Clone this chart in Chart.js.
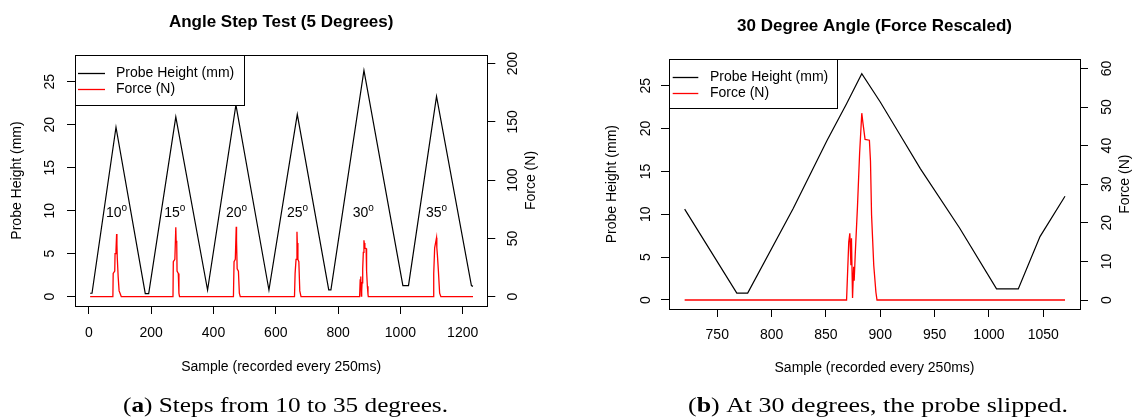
<!DOCTYPE html>
<html>
<head>
<meta charset="utf-8">
<script src="https://cdn.jsdelivr.net/npm/chart.js@4.4.0/dist/chart.umd.min.js"></script>
<style>
  html, body { margin: 0; padding: 0; background: #fff; }
  #wrap { position: relative; width: 1133px; height: 420px; overflow: hidden; }
  canvas { position: absolute; top: 0; }
  #chartA { left: 0; }
  #chartB { left: 560px; }
</style>
</head>
<body>
<div id="wrap">
  <canvas id="chartA" width="560" height="420" style="width:560px;height:420px"></canvas>
  <canvas id="chartB" width="573" height="420" style="width:573px;height:420px"></canvas>
</div>
<script>
// Panel (a): angle step test, samples every 250ms
const heightSampleA = [4, 10, 87, 181, 192, 279, 381, 472, 578, 669, 770, 777, 883, 1008, 1026, 1116, 1228, 1233];
const heightA = [0.4, 0.4, 19.7, 0.35, 0.35, 20.9, 0.78, 22.3, 0.78, 21.2, 0.8, 0.8, 26.3, 1.3, 1.3, 23.3, 1.3, 1.2];

const forceSampleA = [
  4, 77, 78, 83, 84, 87, 89, 90, 91, 94, 97, 100, 104,
  270, 271, 276, 279, 280, 282, 283, 287, 289, 291,
  464, 466, 470, 473, 474, 476, 480, 483, 486,
  660, 662, 665, 668, 669, 671, 674, 677, 681,
  869, 871, 872, 873, 873.5, 874.5, 875.5, 876, 877, 879, 881, 883, 884, 886, 890, 891, 892, 894, 896, 897,
  1105, 1107, 1110, 1116, 1117, 1119, 1122, 1126, 1130,
  1233
];
const forceA = [
  0, 0, 20, 22, 37, 40, 53.8, 45, 34, 17, 5, 3, 0,
  0, 30, 32, 59.5, 48, 46, 22, 20, 3, 0,
  0, 30, 32, 60, 48, 24, 22, 3, 0,
  0, 20, 32, 55.8, 46, 32, 30, 5, 0,
  0, 15, 17.3, 9, 16, 0.5, 8.6, 5, 12, 24, 38, 48.4, 46, 41.6, 41.4, 36, 22, 9, 2, 0,
  0, 20, 42, 50.6, 42, 35, 22, 3, 0,
  0
];

const angleNames = ['10', '15', '20', '25', '30', '35'];
const angleSample = [89, 276, 474, 670, 881, 1116];
const angleLabelHeight = 9.7;

// Panel (b): the 30 degree step, force on its own scale
const heightSampleB = [720, 768, 778, 820, 851, 869, 883, 900, 918, 937, 973, 1007, 1027, 1047, 1070];
const heightB = [10.6, 0.8, 0.8, 10.7, 18.6, 22.9, 26.4, 23.1, 19.3, 15.3, 8.4, 1.3, 1.3, 7.4, 12.1];

const forceSampleB = [720, 869, 871, 872, 873, 873.5, 874.5, 875.5, 876, 877, 879, 881, 883, 884, 886, 890, 891, 892, 894, 896, 897, 1070];
const forceB = [0, 0, 15, 17.3, 9, 16, 0.5, 8.6, 5, 12, 24, 38, 48.4, 46, 41.6, 41.4, 36, 22, 9, 2, 0, 0];

const seriesNames = ['Probe Height (mm)', 'Force (N)'];
const seriesColors = ['#000000', '#ff0000'];

const SANS = '"Liberation Sans", Arial, sans-serif';
const SERIF = '"Liberation Serif", "Times New Roman", serif';

function toPoints(xs, ys) {
  return xs.map((x, i) => ({ x: x, y: ys[i] }));
}

function drawRotated(ctx, text, x, y) {
  ctx.save();
  ctx.translate(x, y);
  ctx.rotate(-Math.PI / 2);
  ctx.fillText(text, 0, 0);
  ctx.restore();
}

// draws the R-style box, labels, legend and caption on top of the chart
const rDecor = {
  id: 'rDecor',
  afterDraw(chart) {
    const p = chart.options.plugins.rDecor;
    const ctx = chart.ctx;
    const a = chart.chartArea;
    ctx.save();
    ctx.fillStyle = '#000';
    ctx.strokeStyle = '#000';
    ctx.lineWidth = 1;

    // box
    ctx.strokeRect(Math.round(a.left) + 0.5, Math.round(a.top) + 0.5,
      Math.round(a.right - a.left), Math.round(a.bottom - a.top));

    // tick labels
    ctx.font = '14px ' + SANS;
    ctx.textAlign = 'center';
    ctx.textBaseline = 'middle';
    const sx = chart.scales.x, sy = chart.scales.y, sy2 = chart.scales.y2;
    sx.ticks.forEach(t => ctx.fillText(String(t.value), sx.getPixelForValue(t.value), p.xTickY));
    sy.ticks.forEach(t => drawRotated(ctx, String(t.value), p.yTickX, sy.getPixelForValue(t.value)));
    sy2.ticks.forEach(t => drawRotated(ctx, String(t.value), p.y2TickX, sy2.getPixelForValue(t.value)));

    // axis titles
    const midX = (a.left + a.right) / 2, midY = (a.top + a.bottom) / 2;
    ctx.fillText('Sample (recorded every 250ms)', midX, p.xTitleY);
    drawRotated(ctx, seriesNames[0], p.yTitleX, midY);
    drawRotated(ctx, seriesNames[1], p.y2TitleX, midY);

    // main title
    ctx.font = 'bold 17px ' + SANS;
    ctx.fillText(p.title, midX, p.titleY);

    // angle labels (panel a)
    if (p.angles) {
      const y = sy.getPixelForValue(angleLabelHeight);
      angleNames.forEach((name, i) => {
        ctx.font = '14px ' + SANS;
        const wBase = ctx.measureText(name).width;
        ctx.font = '10px ' + SANS;
        const wSup = ctx.measureText('o').width;
        const x0 = sx.getPixelForValue(angleSample[i]) - (wBase + wSup) / 2;
        ctx.textAlign = 'left';
        ctx.font = '14px ' + SANS;
        ctx.fillText(name, x0, y);
        ctx.font = '10px ' + SANS;
        ctx.fillText('o', x0 + wBase, y - 5);
      });
      ctx.textAlign = 'center';
    }

    // legend
    const L = p.legend;
    ctx.fillStyle = '#fff';
    ctx.fillRect(L.left, L.top, L.right - L.left, L.bottom - L.top);
    ctx.strokeStyle = '#000';
    ctx.strokeRect(Math.round(L.left) + 0.5, Math.round(L.top) + 0.5,
      Math.round(L.right - L.left), Math.round(L.bottom - L.top));
    ctx.font = '14px ' + SANS;
    ctx.textAlign = 'left';
    seriesNames.forEach((name, i) => {
      const y = L.rows[i];
      ctx.strokeStyle = seriesColors[i];
      ctx.lineWidth = 1.3;
      ctx.beginPath();
      ctx.moveTo(L.lineX0, Math.round(y) + 0.5);
      ctx.lineTo(L.lineX1, Math.round(y) + 0.5);
      ctx.stroke();
      ctx.fillStyle = '#000';
      ctx.fillText(name, L.textX, y);
    });

    // caption under the panel
    const cap = p.caption;
    const size = 22;
    const parts = [['(', false], [cap.letter, true], [') ' + cap.text, false]];
    let w = 0;
    parts.forEach(([t, b]) => {
      ctx.font = (b ? 'bold ' : '') + size + 'px ' + SERIF;
      w += ctx.measureText(t).width;
    });
    ctx.save();
    ctx.translate(cap.x - cap.width / 2, cap.y);
    ctx.scale(cap.width / w, 1);
    ctx.textBaseline = 'alphabetic';
    let cx = 0;
    parts.forEach(([t, b]) => {
      ctx.font = (b ? 'bold ' : '') + size + 'px ' + SERIF;
      ctx.fillText(t, cx, 0);
      cx += ctx.measureText(t).width;
    });
    ctx.restore();

    ctx.restore();
  }
};

function axis(position, min, max, step, size) {
  return {
    type: 'linear',
    position: position,
    min: min,
    max: max,
    ticks: { display: false, stepSize: step, includeBounds: false },
    grid: { drawOnChartArea: false, drawTicks: true, tickLength: 8, tickColor: '#000', tickWidth: 1 },
    border: { display: false },
    afterFit: scale => {
      if (position === 'bottom') scale.height = size;
      else scale.width = size;
    }
  };
}

function makeChart(id, cfg) {
  return new Chart(document.getElementById(id), {
    type: 'line',
    data: {
      datasets: [
        {
          label: seriesNames[1], data: toPoints(cfg.forceX, cfg.force), yAxisID: 'y2',
          borderColor: seriesColors[1], borderWidth: 1.3, pointRadius: 0, tension: 0, fill: false
        },
        {
          label: seriesNames[0], data: toPoints(cfg.heightX, cfg.height), yAxisID: 'y',
          borderColor: seriesColors[0], borderWidth: 1.2, pointRadius: 0, tension: 0, fill: false
        }
      ]
    },
    options: {
      responsive: false,
      animation: false,
      devicePixelRatio: 1,
      events: [],
      layout: { padding: { top: cfg.area.top, left: 0, right: 0, bottom: 0 } },
      scales: {
        x: axis('bottom', cfg.xMin, cfg.xMax, cfg.xStep, 420 - cfg.area.bottom),
        y: axis('left', cfg.yMin, cfg.yMax, 5, cfg.area.left),
        y2: axis('right', cfg.y2Min, cfg.y2Max, cfg.y2Step, cfg.width - cfg.area.right)
      },
      plugins: {
        legend: { display: false },
        tooltip: { enabled: false },
        rDecor: cfg.decor
      }
    },
    plugins: [rDecor]
  });
}

makeChart('chartA', {
  forceX: forceSampleA, force: forceA, heightX: heightSampleA, height: heightA,
  width: 560,
  area: { left: 75, top: 55, right: 487.3, bottom: 306 },
  xMin: -44.6, xMax: 1279, xStep: 200,
  yMin: -1.08, yMax: 28.1,
  y2Min: -7.97, y2Max: 207.4, y2Step: 50,
  decor: {
    title: 'Angle Step Test (5 Degrees)', titleY: 22.7,
    xTickY: 332.7, xTitleY: 366.7,
    yTickX: 50, yTitleX: 17, y2TickX: 513, y2TitleX: 531,
    angles: true,
    legend: { left: 75, top: 55, right: 244, bottom: 105, lineX0: 78, lineX1: 105, textX: 116, rows: [72.7, 89.3] },
    caption: { letter: 'a', text: 'Steps from 10 to 35 degrees.', x: 285.5, y: 411.5, width: 325 }
  }
});

makeChart('chartB', {
  forceX: forceSampleB, force: forceB, heightX: heightSampleB, height: heightB,
  width: 573,
  area: { left: 109, top: 59.3, right: 520, bottom: 309 },
  xMin: 705.6, xMax: 1083.8, xStep: 50,
  yMin: -1.05, yMax: 28.08,
  y2Min: -2.33, y2Max: 62.36, y2Step: 10,
  decor: {
    title: '30 Degree Angle (Force Rescaled)', titleY: 26.7,
    xTickY: 335, xTitleY: 368.3,
    yTickX: 86, yTitleX: 51.7, y2TickX: 546.7, y2TitleX: 565,
    angles: false,
    legend: { left: 109, top: 59.3, right: 277.3, bottom: 108.3, lineX0: 112.7, lineX1: 138.3, textX: 150, rows: [76.7, 92.7] },
    caption: { letter: 'b', text: 'At 30 degrees, the probe slipped.', x: 318, y: 411.5, width: 380 }
  }
});
</script>
</body>
</html>
